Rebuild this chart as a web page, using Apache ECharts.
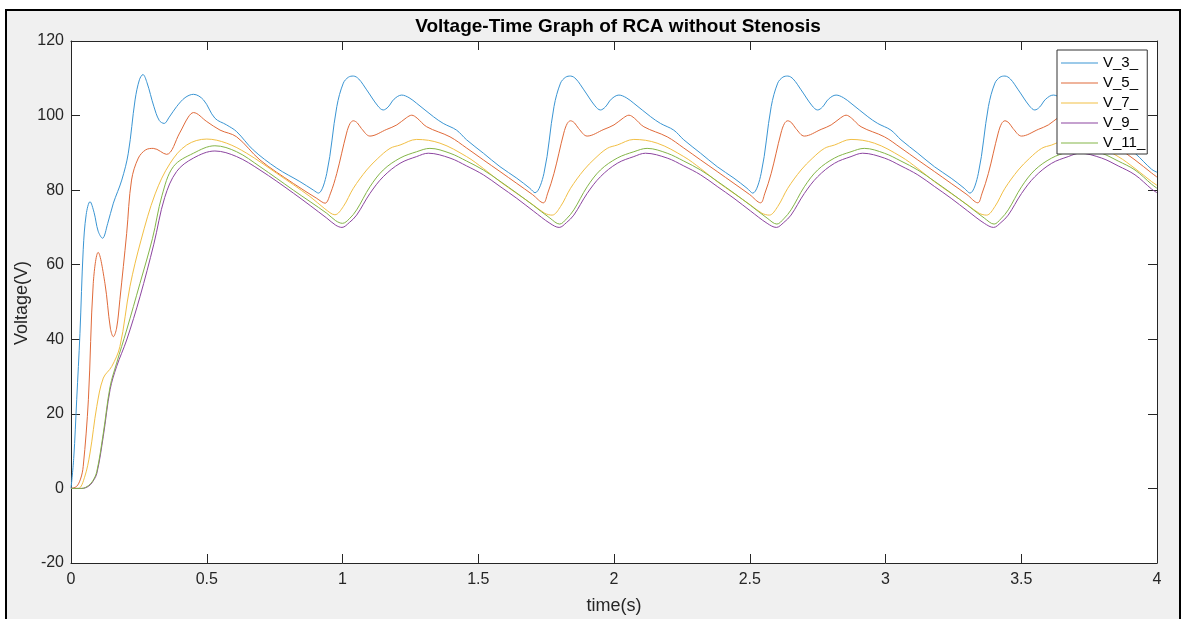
<!DOCTYPE html>
<html>
<head>
<meta charset="utf-8">
<script src="https://cdn.jsdelivr.net/npm/echarts/dist/echarts.min.js"></script>
<style>
html,body{margin:0;padding:0;background:#fff;}
#chart{width:1184px;height:619px;}
</style>
</head>
<body>
<div id="chart"></div>
<script>
// ---- data: [time (s), voltage (V)] ----
const seriesNames = ['V_3_', 'V_5_', 'V_7_', 'V_9_', 'V_11_'];
const xTicks = [0, 0.5, 1, 1.5, 2, 2.5, 3, 3.5, 4];
const yTicks = [-20, 0, 20, 40, 60, 80, 100, 120];

const V_3 = [
  [0,0],[0.01,8],[0.021,23.8],[0.033,41.6],[0.045,64],[0.056,73.5],[0.07,76.9],[0.085,74],[0.1,69],[0.116,67.1],[0.135,71],[0.156,76.5],[0.187,82.7],[0.211,89.9],[0.236,104.2],[0.252,109.6],[0.265,111],[0.28,108.8],[0.305,102.5],[0.325,98.7],[0.343,97.9],[0.362,99.6],[0.389,102.4],[0.42,104.8],[0.451,105.7],[0.488,104.2],[0.53,99.3],[0.573,97.5],[0.61,95.7],[0.671,90.8],[0.758,85.9],[0.843,82.3],[0.893,80],[0.911,79.2],
  [0.942,84.5],[0.979,102.4],[1.003,108.7],[1.022,110.3],[1.04,110.6],[1.06,109.8],[1.089,106.9],[1.13,102.6],[1.15,101.5],[1.168,102.3],[1.19,104.4],[1.218,105.5],[1.245,104.8],[1.273,103.3],[1.335,99.7],[1.371,97.9],[1.42,96.1],[1.457,93.5],[1.519,89.9],[1.58,86.3],[1.642,83.2],[1.69,80.5],[1.709,79.3],
  [1.742,84.5],[1.779,102.4],[1.803,108.7],[1.822,110.3],[1.84,110.6],[1.86,109.8],[1.889,106.9],[1.93,102.6],[1.95,101.5],[1.968,102.3],[1.99,104.4],[2.018,105.5],[2.045,104.8],[2.073,103.3],[2.135,99.7],[2.171,97.9],[2.22,96.1],[2.257,93.5],[2.319,89.9],[2.38,86.3],[2.442,83.2],[2.49,80.5],[2.511,79.2],
  [2.542,84.5],[2.579,102.4],[2.603,108.7],[2.622,110.3],[2.64,110.6],[2.66,109.8],[2.689,106.9],[2.73,102.6],[2.75,101.5],[2.768,102.3],[2.79,104.4],[2.818,105.5],[2.845,104.8],[2.873,103.3],[2.935,99.7],[2.971,97.9],[3.02,96.1],[3.057,93.5],[3.119,89.9],[3.18,86.3],[3.242,83.2],[3.29,80.5],[3.311,79.2],
  [3.342,84.5],[3.379,102.4],[3.403,108.7],[3.422,110.3],[3.44,110.6],[3.46,109.8],[3.489,106.9],[3.53,102.6],[3.55,101.5],[3.568,102.3],[3.59,104.4],[3.618,105.5],[3.645,104.8],[3.673,103.3],[3.735,99.7],[3.771,97.9],[3.82,96.1],[3.857,93.5],[3.919,89.9],[3.98,85.6],[4.0,84.8]
];
const V_5 = [
  [0,0],[0.02,0.5],[0.035,2.5],[0.045,5.9],[0.064,23.8],[0.082,55],[0.1,63.3],[0.125,55],[0.145,43],[0.156,40.7],[0.168,43],[0.18,50.6],[0.205,68.4],[0.223,82.7],[0.248,88.6],[0.275,90.8],[0.303,91.2],[0.352,89.6],[0.4,95.3],[0.432,99.6],[0.451,100.8],[0.5,98.4],[0.549,96.1],[0.61,94.3],[0.696,88.1],[0.819,81.8],[0.905,77.8],[0.936,76.5],
  [0.955,79],[0.979,84.5],[1.015,95.3],[1.028,97.9],[1.04,98.6],[1.055,98],[1.07,96.5],[1.101,94.5],[1.163,96.3],[1.2,97.5],[1.235,99.4],[1.255,100.1],[1.275,99.3],[1.31,97],[1.396,94.3],[1.457,91.3],[1.519,88.1],[1.58,85],[1.642,81.8],[1.7,78.8],[1.74,76.6],
  [1.755,79],[1.779,84.5],[1.815,95.3],[1.828,97.9],[1.84,98.6],[1.855,98],[1.87,96.5],[1.901,94.5],[1.963,96.3],[2.0,97.5],[2.035,99.4],[2.055,100.1],[2.075,99.3],[2.11,97],[2.196,94.3],[2.257,91.3],[2.319,88.1],[2.38,85],[2.442,81.8],[2.5,78.8],[2.54,76.6],
  [2.555,79],[2.579,84.5],[2.615,95.3],[2.628,97.9],[2.64,98.6],[2.655,98],[2.67,96.5],[2.701,94.5],[2.763,96.3],[2.8,97.5],[2.835,99.4],[2.855,100.1],[2.875,99.3],[2.91,97],[2.996,94.3],[3.057,91.3],[3.119,88.1],[3.18,85],[3.242,81.8],[3.3,78.8],[3.34,76.6],
  [3.355,79],[3.379,84.5],[3.415,95.3],[3.428,97.9],[3.44,98.6],[3.455,98],[3.47,96.5],[3.501,94.5],[3.563,96.3],[3.6,97.5],[3.635,99.4],[3.655,100.1],[3.675,99.3],[3.71,97],[3.796,94.3],[3.857,91.3],[3.919,88.1],[3.98,84.6],[4.0,83.5]
];
const V_7 = [
  [0,0],[0.027,0],[0.05,3],[0.07,9.5],[0.095,22],[0.119,29.6],[0.15,32.7],[0.18,38],[0.217,54.1],[0.258,66.6],[0.31,79],[0.365,87.2],[0.426,92.1],[0.5,93.7],[0.573,92.6],[0.647,89.9],[0.758,84.5],[0.88,78.3],[0.935,75],[0.972,73.4],
  [1.003,75.6],[1.04,80.5],[1.089,85.4],[1.13,88.5],[1.175,91.2],[1.212,92.1],[1.273,93.6],[1.359,92.6],[1.457,89],[1.519,85.8],[1.58,82.3],[1.642,79.1],[1.703,76],[1.745,73.8],[1.772,73.3],
  [1.803,75.6],[1.84,80.5],[1.889,85.4],[1.93,88.5],[1.975,91.2],[2.012,92.1],[2.073,93.6],[2.159,92.6],[2.257,89],[2.319,85.8],[2.38,82.3],[2.442,79.1],[2.503,76],[2.545,73.8],[2.572,73.3],
  [2.603,75.6],[2.64,80.5],[2.689,85.4],[2.73,88.5],[2.775,91.2],[2.812,92.1],[2.873,93.6],[2.959,92.6],[3.057,89],[3.119,85.8],[3.18,82.3],[3.242,79.1],[3.303,76],[3.345,73.8],[3.372,73.3],
  [3.403,75.6],[3.44,80.5],[3.489,85.4],[3.53,88.5],[3.575,91.2],[3.612,92.1],[3.673,93.6],[3.759,92.6],[3.857,89],[3.919,85.8],[3.98,82.3],[4.0,81.3]
];
const V_9 = [
  [0,0],[0.04,0],[0.065,0.6],[0.08,1.8],[0.095,4],[0.119,14],[0.144,26.5],[0.168,32.7],[0.205,39.8],[0.254,51.4],[0.305,65.5],[0.345,78],[0.389,85],[0.451,88.6],[0.53,90.5],[0.61,89],[0.696,85.4],[0.819,79.2],[0.942,72.5],[0.975,70.6],[0.998,70],
  [1.025,71.3],[1.052,73.3],[1.101,79.1],[1.15,83.6],[1.212,87.2],[1.273,89],[1.316,89.9],[1.396,88.6],[1.457,86.5],[1.519,84.1],[1.58,81],[1.642,77.8],[1.703,74.4],[1.764,71.1],[1.798,70],
  [1.825,71.3],[1.852,73.3],[1.901,79.1],[1.95,83.6],[2.012,87.2],[2.073,89],[2.116,89.9],[2.196,88.6],[2.257,86.5],[2.319,84.1],[2.38,81],[2.442,77.8],[2.503,74.4],[2.564,71.1],[2.598,70],
  [2.625,71.3],[2.652,73.3],[2.701,79.1],[2.75,83.6],[2.812,87.2],[2.873,89],[2.916,89.9],[2.996,88.6],[3.057,86.5],[3.119,84.1],[3.18,81],[3.242,77.8],[3.303,74.4],[3.364,71.1],[3.398,70],
  [3.425,71.3],[3.452,73.3],[3.501,79.1],[3.55,83.6],[3.612,87.2],[3.673,89],[3.716,89.9],[3.796,88.6],[3.857,86.5],[3.919,84.1],[3.98,80.3],[4.0,79.3]
];
const V_11 = [
  [0,0],[0.04,0],[0.065,0.8],[0.08,2],[0.095,4.5],[0.119,14.8],[0.144,27.3],[0.168,33.6],[0.205,42.5],[0.254,55],[0.3,67],[0.335,78.5],[0.377,86.3],[0.451,89.9],[0.53,91.9],[0.61,90.3],[0.696,86.3],[0.819,80],[0.942,73.8],[0.975,71.8],[1.0,71.1],
  [1.025,72.3],[1.052,74.7],[1.101,80.9],[1.15,85.4],[1.212,88.6],[1.273,90.3],[1.322,91.2],[1.396,89.9],[1.457,87.8],[1.519,85.4],[1.58,82.4],[1.642,79.2],[1.703,75.9],[1.764,72.5],[1.8,70.9],
  [1.825,72.3],[1.852,74.7],[1.901,80.9],[1.95,85.4],[2.012,88.6],[2.073,90.3],[2.122,91.2],[2.196,89.9],[2.257,87.8],[2.319,85.4],[2.38,82.4],[2.442,79.2],[2.503,75.9],[2.564,72.5],[2.6,70.9],
  [2.625,72.3],[2.652,74.7],[2.701,80.9],[2.75,85.4],[2.812,88.6],[2.873,90.3],[2.922,91.2],[2.996,89.9],[3.057,87.8],[3.119,85.4],[3.18,82.4],[3.242,79.2],[3.303,75.9],[3.364,72.5],[3.4,70.9],
  [3.425,72.3],[3.452,74.7],[3.501,80.9],[3.55,85.4],[3.612,88.6],[3.673,90.3],[3.722,91.2],[3.796,89.9],[3.857,87.8],[3.919,85.4],[3.98,81.6],[4.0,80.5]
];
const seriesData = [V_3, V_5, V_7, V_9, V_11];
const colors = ['#3a95d3', '#e06a3a', '#f2bf45', '#8c45a0', '#84b548'];

const FONT = '"Liberation Sans", Arial, Helvetica, sans-serif';
const AX = '#262626';

const chart = echarts.init(document.getElementById('chart'), null, {renderer: 'canvas'});

const G = {left: 71, top: 41, right: 27, bottom: 56};

function xAxisCfg(pos, showLabel) {
  return {
    type: 'value', position: pos, min: xTicks[0], max: xTicks[xTicks.length - 1], interval: 0.5,
    axisLine: {show: true, onZero: false, lineStyle: {color: AX, width: 1}},
    axisTick: {show: true, inside: true, length: 9, lineStyle: {color: AX, width: 1}},
    axisLabel: {show: showLabel, fontSize: 16, color: AX, fontFamily: FONT, margin: 9},
    splitLine: {show: false}
  };
}
function yAxisCfg(pos, showLabel) {
  return {
    type: 'value', position: pos, min: yTicks[0], max: yTicks[yTicks.length - 1], interval: 20,
    axisLine: {show: true, onZero: false, lineStyle: {color: AX, width: 1}},
    axisTick: {show: true, inside: true, length: 9, lineStyle: {color: AX, width: 1}},
    axisLabel: {show: showLabel, fontSize: 16, color: AX, fontFamily: FONT, margin: 7},
    splitLine: {show: false}
  };
}

const option = {
  animation: false,
  backgroundColor: '#ffffff',
  color: colors,
  graphic: [
    {type: 'rect', z: -20, silent: true, shape: {x: 6, y: 10, width: 1174, height: 620},
     style: {fill: '#f0f0f0', stroke: '#000', lineWidth: 2}},
    {type: 'rect', z: -19, silent: true, shape: {x: G.left, y: G.top, width: 1184 - G.left - G.right, height: 619 - G.top - G.bottom},
     style: {fill: '#ffffff'}},
    {type: 'text', z: 10, silent: true, x: 618, y: 27,
     style: {text: 'Voltage-Time Graph of RCA without Stenosis', fill: '#000', font: 'bold 19px ' + FONT, textAlign: 'center', textVerticalAlign: 'middle'}},
    {type: 'text', z: 10, silent: true, x: 614, y: 606,
     style: {text: 'time(s)', fill: AX, font: '18px ' + FONT, textAlign: 'center', textVerticalAlign: 'middle'}},
    {type: 'text', z: 10, silent: true, x: 22, y: 303, rotation: Math.PI / 2,
     style: {text: 'Voltage(V)', fill: AX, font: '18px ' + FONT, textAlign: 'center', textVerticalAlign: 'middle'}}
  ],
  grid: {left: G.left, top: G.top, right: G.right, bottom: G.bottom, containLabel: false, outerBoundsMode: 'none', show: false},
  xAxis: [xAxisCfg('bottom', true), xAxisCfg('top', false)],
  yAxis: [yAxisCfg('left', true), yAxisCfg('right', false)],
  legend: {
    data: seriesNames,
    orient: 'vertical', left: 1057, top: 50,
    icon: 'rect',
    itemWidth: 37, itemHeight: 1.2, itemGap: 4, itemTextGap: 3,
    padding: [5, 2, 3, 4],
    backgroundColor: '#ffffff', borderColor: '#333333', borderWidth: 1, borderRadius: 0,
    selectedMode: false,
    textStyle: {fontSize: 15, lineHeight: 16, color: '#000', fontFamily: FONT}
  },
  series: seriesNames.map((name, i) => ({
    name: name, type: 'line', data: seriesData[i], xAxisIndex: 0, yAxisIndex: 0,
    symbol: 'none', showSymbol: false, smooth: 0.35,
    lineStyle: {width: 1, color: colors[i]}, itemStyle: {color: colors[i]},
    emphasis: {disabled: true}, z: 2
  }))
};
chart.setOption(option);
</script>
</body>
</html>
